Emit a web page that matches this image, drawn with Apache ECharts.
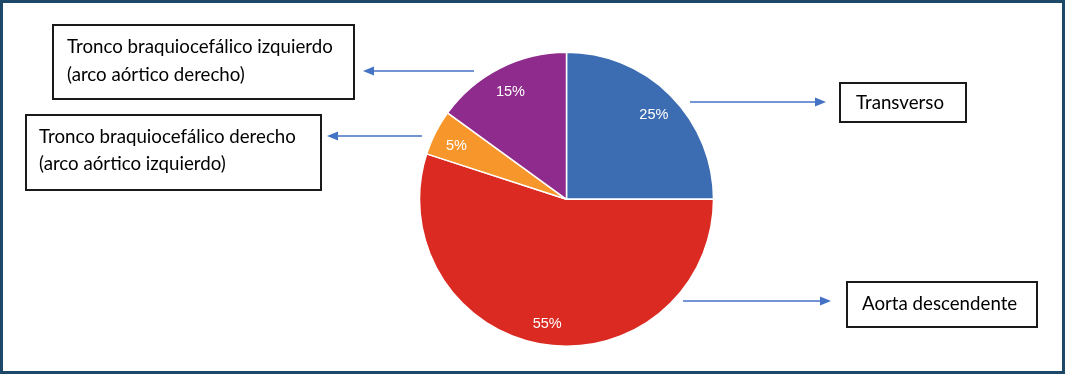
<!DOCTYPE html>
<html><head><meta charset="utf-8">
<script src="https://cdn.jsdelivr.net/npm/echarts@6/dist/echarts.min.js"></script>
<style>html,body{margin:0;padding:0;background:#fff}#c{width:1065px;height:374px}</style>
</head><body><div id="c"></div><script>
const categories = ['Transverso', 'Aorta descendente', 'Tronco braquiocefálico derecho\n(arco aórtico izquierdo)', 'Tronco braquiocefálico izquierdo\n(arco aórtico derecho)'];
const values = [25, 55, 5, 15];
const colors = ['#3c6cb1', '#db2a22', '#f6962b', '#8e2b8c'];

const chart = echarts.init(document.getElementById('c'));
const data = categories.map((n, i) => ({ name: n, value: values[i], itemStyle: { color: colors[i] } }));
const center = [566.5, 199.3];
const R = 147;
const arrowColor = '#4472c4';
const boxFont = '18.7px Lato';

function arrow(x1, y, x2) {
  const dir = x2 > x1 ? 1 : -1;
  const tipBase = x2 - dir * 11;
  return [
    { type: 'line', shape: { x1: x1, y1: y, x2: tipBase, y2: y }, style: { stroke: arrowColor, lineWidth: 1.6 }, silent: true },
    { type: 'polygon', shape: { points: [[x2, y], [tipBase, y - 4.5], [tipBase, y + 4.5]] }, style: { fill: arrowColor }, silent: true }
  ];
}
function box(x, y, w, h) {
  return { type: 'rect', shape: { x: x, y: y, width: w, height: h }, style: { fill: '#fff', stroke: '#1a1a1a', lineWidth: 2 }, silent: true };
}
function txt(x, y, s, lh) {
  return { type: 'text', x: x, y: y, style: { text: s, font: boxFont, fill: '#000', textVerticalAlign: 'middle', lineHeight: lh || 22 }, silent: true };
}

const graphic = [
  { type: 'rect', shape: { x: 1.5, y: 1.5, width: 1062, height: 371 }, style: { fill: 'none', stroke: '#1d4868', lineWidth: 3 }, silent: true, z: 100 },
  box(53, 25, 301, 74), txt(67, 61, categories[3], 28),
  box(26, 115, 295, 75), txt(39, 150, categories[2], 27),
  box(840, 83, 126, 39), txt(856, 103, categories[0]),
  box(847, 282, 190, 45), txt(862, 304, categories[1]),
  ...arrow(474, 71, 363),
  ...arrow(422, 136, 327),
  ...arrow(690, 102, 826),
  ...arrow(683, 301, 831)
];

chart.setOption({
  animation: false,
  backgroundColor: '#fff',
  graphic: graphic,
  series: [
    {
      type: 'pie', center: center, radius: [0, R], startAngle: 90, clockwise: true,
      data: data, label: { show: false }, labelLine: { show: false },
      itemStyle: { borderColor: '#fff', borderWidth: 1.5 }, silent: true
    },
    {
      type: 'pie', center: center, radius: [94, R], startAngle: 90, clockwise: true,
      avoidLabelOverlap: false, silent: true,
      data: data.map(d => ({ name: d.name, value: d.value })),
      itemStyle: { color: 'rgba(0,0,0,0)', borderWidth: 0 },
      label: {
        show: true, position: 'inside', formatter: '{s|}\n{c}%', color: '#fff', fontSize: 14.5, lineHeight: 16,
        fontFamily: 'Liberation Sans, Arial, sans-serif', rich: { s: { lineHeight: 6, fontSize: 1 } }
      },
      labelLine: { show: false }, emphasis: { disabled: true }
    }
  ]
});
</script></body></html>
